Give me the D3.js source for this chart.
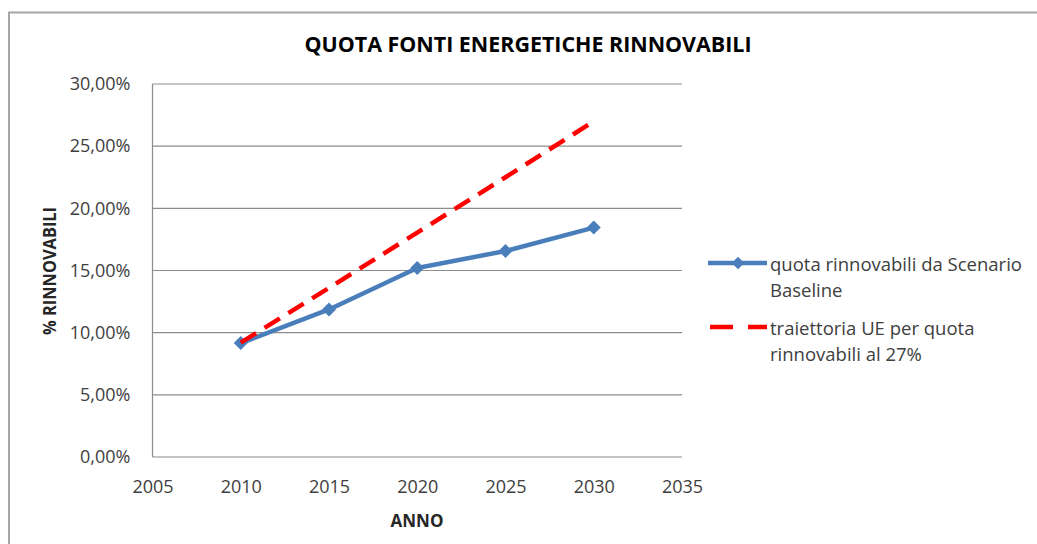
<!DOCTYPE html>
<html>
<head>
<meta charset="utf-8">
<style>
  body { margin: 0; background: #fff; }
  svg text { font-family: "Open Sans", sans-serif; fill: #404040; }
  .axis path, .axis line { stroke: none; }
  .grid line { stroke: #8c8c8c; stroke-width: 1.2; }
</style>
</head>
<body>
<svg id="chart" width="1037" height="544"></svg>
<script src="https://d3js.org/d3.v7.min.js"></script>
<script>
// data
var years = [2010, 2015, 2020, 2025, 2030];
var baseline = [0.0916, 0.1187, 0.1520, 0.1657, 0.1845];
var traiettoria = [0.0920, 0.1360, 0.1805, 0.2250, 0.2700];
var xTicks = [2005, 2010, 2015, 2020, 2025, 2030, 2035];
var yTicks = [0, 0.05, 0.10, 0.15, 0.20, 0.25, 0.30];
var seriesNames = [["quota rinnovabili da Scenario", "Baseline"],
                   ["traiettoria UE per quota", "rinnovabili al 27%"]];

var svg = d3.select("#chart");

// outer chart frame (right and bottom edges fall outside the picture)
svg.append("path")
  .attr("d", "M9,560 L9,12.5 L1050,12.5")
  .attr("fill", "none")
  .attr("stroke", "#a6a6a6")
  .attr("stroke-width", 2);

var pLeft = 152.5, pRight = 682, pTop = 84, pBottom = 457;

var x = d3.scaleLinear().domain([2005, 2035]).range([pLeft, pRight]);
var y = d3.scaleLinear().domain([0, 0.30]).range([pBottom, pTop]);

// gridlines
svg.append("g").attr("class", "grid")
  .selectAll("line")
  .data(yTicks)
  .enter().append("line")
    .attr("x1", pLeft).attr("x2", pRight)
    .attr("y1", function(d) { return y(d); })
    .attr("y2", function(d) { return y(d); });

// vertical axis line
svg.append("line")
  .attr("x1", pLeft).attr("x2", pLeft).attr("y1", pTop).attr("y2", pBottom)
  .attr("stroke", "#8c8c8c").attr("stroke-width", 1.2);

var fmt = function(d) { return d3.format(".2f")(d * 100).replace(".", ",") + "%"; };

svg.append("g").attr("class", "axis")
  .attr("transform", "translate(" + pLeft + ",0)")
  .call(d3.axisLeft(y).tickValues(yTicks).tickFormat(fmt).tickSize(0).tickPadding(22))
  .selectAll("text")
    .attr("font-size", 18)
    .attr("fill", "#404040")
    .attr("font-family", "Open Sans");

svg.append("g").attr("class", "axis")
  .attr("transform", "translate(0," + pBottom + ")")
  .call(d3.axisBottom(x).tickValues(xTicks).tickFormat(d3.format("d")).tickSize(0).tickPadding(23))
  .selectAll("text")
    .attr("font-size", 18)
    .attr("fill", "#404040")
    .attr("font-family", "Open Sans");

// titles
svg.append("text")
  .attr("x", 528).attr("y", 52)
  .attr("text-anchor", "middle")
  .attr("font-size", 21)
  .attr("font-weight", "bold")
  .attr("textLength", 447)
  .attr("lengthAdjust", "spacingAndGlyphs")
  .style("fill", "#000")
  .text("QUOTA FONTI ENERGETICHE RINNOVABILI");

svg.append("text")
  .attr("transform", "translate(56,271) rotate(-90)")
  .attr("text-anchor", "middle")
  .attr("font-size", 17)
  .attr("font-weight", "bold")
  .attr("textLength", 128)
  .attr("lengthAdjust", "spacingAndGlyphs")
  .style("fill", "#262626")
  .text("% RINNOVABILI");

svg.append("text")
  .attr("x", 417).attr("y", 527)
  .attr("text-anchor", "middle")
  .attr("font-size", 17)
  .attr("font-weight", "bold")
  .style("fill", "#262626")
  .text("ANNO");

// series
var line = d3.line()
  .x(function(d) { return x(d[0]); })
  .y(function(d) { return y(d[1]); });

var redData = years.map(function(yr, i) { return [yr, traiettoria[i]]; });
var blueData = years.map(function(yr, i) { return [yr, baseline[i]]; });

svg.append("path")
  .datum(blueData)
  .attr("d", line)
  .attr("fill", "none")
  .attr("stroke", "#4a7ebb")
  .attr("stroke-width", 4.5)
  .attr("stroke-linejoin", "round");

var diamond = d3.symbol().type(d3.symbolDiamond2).size(125);

svg.append("g")
  .selectAll("path")
  .data(blueData)
  .enter().append("path")
    .attr("transform", function(d) { return "translate(" + x(d[0]) + "," + y(d[1]) + ")"; })
    .attr("d", diamond)
    .attr("fill", "#4a7ebb");

svg.append("path")
  .datum(redData)
  .attr("d", line)
  .attr("fill", "none")
  .attr("stroke", "#ff0000")
  .attr("stroke-width", 4.5)
  .attr("stroke-dasharray", "18,10");

// legend
var legend = svg.append("g").attr("transform", "translate(708,0)");
var legY = [263, 327];

legend.append("line")
  .attr("x1", 0).attr("x2", 59).attr("y1", legY[0]).attr("y2", legY[0])
  .attr("stroke", "#4a7ebb").attr("stroke-width", 4.5);
legend.append("path")
  .attr("transform", "translate(30," + legY[0] + ")")
  .attr("d", d3.symbol().type(d3.symbolDiamond2).size(100))
  .attr("fill", "#4a7ebb");

legend.append("line")
  .attr("x1", 2).attr("x2", 59).attr("y1", legY[1]).attr("y2", legY[1])
  .attr("stroke", "#ff0000").attr("stroke-width", 4.5)
  .attr("stroke-dasharray", "23,15");

seriesNames.forEach(function(lines, i) {
  lines.forEach(function(t, j) {
    legend.append("text")
      .attr("x", 62)
      .attr("y", legY[i] + 8 + j * 26)
      .attr("font-size", 18.5)
      .text(t);
  });
});
</script>
</body>
</html>
